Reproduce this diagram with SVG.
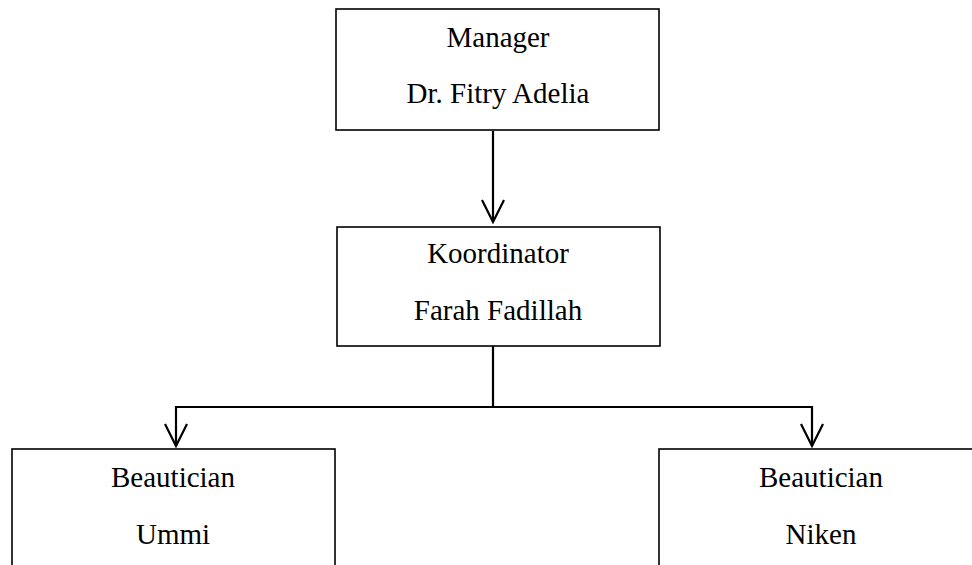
<svg xmlns="http://www.w3.org/2000/svg" width="972" height="565" viewBox="0 0 972 565">
<style>
.box{fill:#fff;stroke:#000;stroke-width:1.6}
.t{font-family:"Liberation Serif","Times New Roman",serif;font-size:29px;fill:#000;text-anchor:middle}
.c{fill:none;stroke:#000;stroke-width:2.2}
</style>
<defs>
<marker id="arr" markerUnits="userSpaceOnUse" viewBox="-1 -1 25 25" markerWidth="25" markerHeight="25" refX="22" refY="11" orient="auto">
<path d="M0,0 L22,11 L0,22" fill="none" stroke="#000" stroke-width="2.2"/>
</marker>
</defs>
<rect width="972" height="565" fill="#fff"/>
<g id="connectors">
<line class="c" x1="493" y1="131" x2="493" y2="222" marker-end="url(#arr)"/>
<polyline class="c" points="493,346 493,407 176,407 176,446" marker-end="url(#arr)"/>
<polyline class="c" points="493,407 812,407 812,446" marker-end="url(#arr)"/>
</g>
<g id="manager">
<rect class="box" x="336" y="9" width="323" height="121"/>
<text class="t" x="498" y="47">Manager</text>
<text class="t" x="498" y="103">Dr. Fitry Adelia</text>
</g>
<g id="koordinator">
<rect class="box" x="337" y="227" width="323" height="119"/>
<text class="t" x="498" y="263">Koordinator</text>
<text class="t" x="498" y="320">Farah Fadillah</text>
</g>
<g id="beautician-ummi">
<rect class="box" x="12" y="449" width="323" height="130"/>
<text class="t" x="173" y="487">Beautician</text>
<text class="t" x="173" y="544">Ummi</text>
</g>
<g id="beautician-niken">
<rect class="box" x="659" y="449" width="330" height="130"/>
<text class="t" x="821" y="487">Beautician</text>
<text class="t" x="821" y="544">Niken</text>
</g>
</svg>
